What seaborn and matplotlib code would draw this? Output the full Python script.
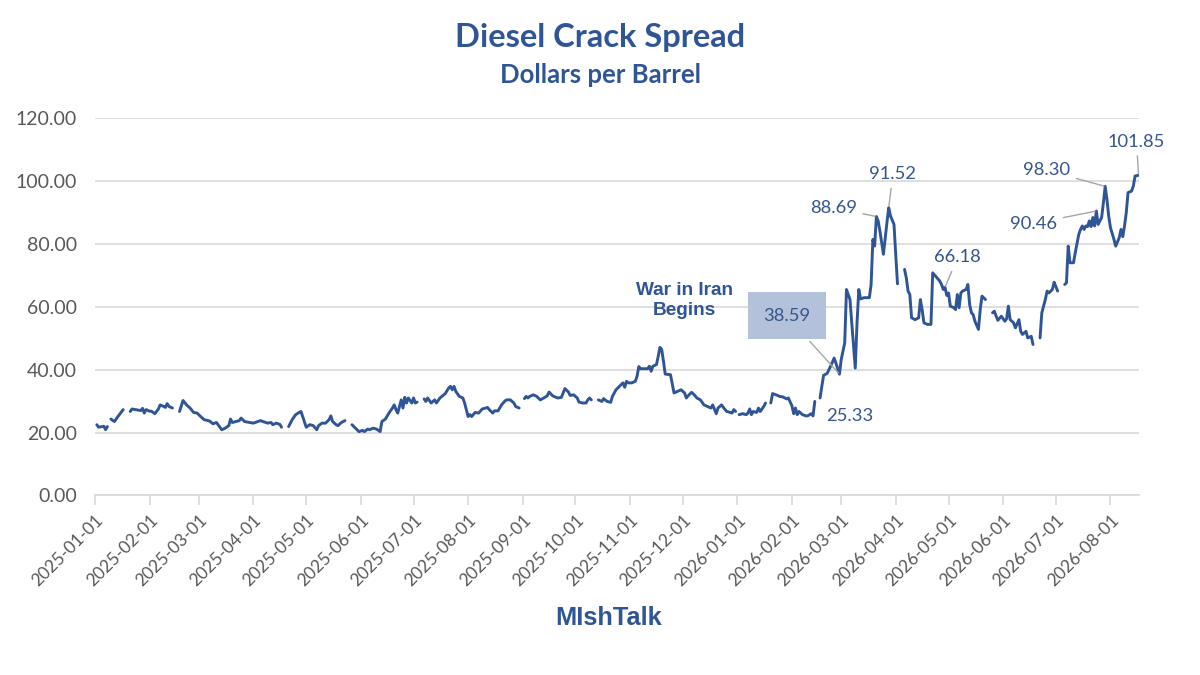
import pandas as pd
import matplotlib
matplotlib.use("Agg")
import matplotlib.pyplot as plt
import matplotlib.dates as mdates
from matplotlib.ticker import MultipleLocator, FormatStrFormatter
import seaborn as sns

# Diesel crack spread, $/bbl. None = holiday (gap in line)
days_2025 = [
    "01-02", "01-03", "01-06", "01-07", "01-08", "01-09", "01-10", "01-12", "01-14", "01-17", "01-20", "01-21", "01-22", "01-24", "01-27", "01-28", "01-29", "01-30",
    "02-01", "02-02", "02-04", "02-06", "02-07", "02-09", "02-10", "02-11", "02-12", "02-14", "02-17", "02-18", "02-20", "02-22", "02-24", "02-26", "02-28",
    "03-02", "03-04", "03-07", "03-09", "03-11", "03-14", "03-16", "03-18", "03-19", "03-20", "03-22", "03-24", "03-25", "03-27", "03-30",
    "04-01", "04-05", "04-09", "04-11", "04-12", "04-14", "04-16", "04-17", "04-18", "04-21", "04-23", "04-25", "04-27", "04-28", "04-29",
    "05-01", "05-03", "05-05", "05-07", "05-08", "05-10", "05-12", "05-14", "05-15", "05-16", "05-18", "05-19", "05-21", "05-23", "05-26", "05-27", "05-29", "05-31",
    "06-02", "06-03", "06-05", "06-06", "06-08", "06-10", "06-12", "06-13", "06-15", "06-17", "06-19", "06-20", "06-21", "06-22", "06-23", "06-24", "06-25", "06-26", "06-27", "06-28", "06-30",
    "07-01", "07-02", "07-03", "07-04", "07-07", "07-08", "07-09", "07-10", "07-11", "07-13", "07-14", "07-16", "07-19", "07-21", "07-22", "07-23", "07-24", "07-25", "07-27", "07-29", "07-30",
    "08-01", "08-02", "08-03", "08-05", "08-07", "08-09", "08-11", "08-12", "08-13", "08-15", "08-16", "08-18", "08-20", "08-22", "08-23", "08-25", "08-27", "08-28", "08-30",
    "09-01", "09-02", "09-03", "09-04", "09-05", "09-07", "09-09", "09-11", "09-13", "09-15", "09-16", "09-18", "09-20", "09-21", "09-23", "09-25", "09-27", "09-28", "09-30",
    "10-02", "10-03", "10-05", "10-07", "10-08", "10-09", "10-10", "10-13", "10-14", "10-16", "10-17", "10-19", "10-21", "10-22", "10-24", "10-26", "10-28", "10-29", "10-30", "10-31",
    "11-02", "11-04", "11-05", "11-06", "11-07", "11-09", "11-11", "11-12", "11-13", "11-14", "11-16", "11-17", "11-18", "11-19", "11-20", "11-21", "11-24", "11-26", "11-28", "11-30",
    "12-02", "12-03", "12-04", "12-06", "12-08", "12-09", "12-11", "12-13", "12-15", "12-17", "12-18", "12-20", "12-21", "12-23", "12-25", "12-26", "12-28", "12-29", "12-30", "12-31",
]
crack_2025 = [
    22.5, 21.7, 22.0, 20.9, 21.9, None, 24.3, 23.5, 25.1, 27.3, None, 26.7, 27.5, 27.3, 27.0, 27.7, 26.2, 27.3,
    26.8, 26.8, 26.0, 27.5, 28.8, 28.3, 28.0, 29.2, 28.3, 27.8, None, 26.7, 30.2, 28.8, 27.8, 26.4, 26.2,
    25.1, 24.1, 23.7, 22.8, 23.2, 20.9, 21.4, 22.2, 24.3, 23.2, 23.5, 23.8, 24.6, 23.5, 23.2,
    23.0, 23.8, 23.0, 23.2, 22.5, 23.0, 22.6, 21.7, None, 21.9, 24.1, 25.7, 26.4, 26.7, 25.1,
    21.7, 22.5, 22.2, 20.9, 22.2, 23.0, 23.0, 24.1, 25.3, 23.5, 22.5, 22.2, 23.2, 23.8, None, 22.5, 21.4, 20.3,
    20.7, 20.3, 21.1, 20.9, 21.4, 21.1, 20.3, 23.5, 24.3, 26.2, 27.8, 28.8, 27.3, 26.2, 28.3, 30.4, 27.8, 31.2, 29.4, 31.0, 29.4,
    31.0, 29.4, 29.7, None, 30.7, 29.9, 31.0, 30.2, 29.4, 30.4, 29.4, 31.0, 32.4, 34.2, 34.7, 33.6, 34.7, 33.1, 31.5, 31.0, 29.4,
    25.1, 25.7, 25.1, 26.4, 26.2, 27.5, 27.8, 28.0, 27.3, 26.2, 26.9, 26.9, 28.8, 30.1, 30.4, 30.4, 29.4, 28.3, 27.8,
    None, 30.8, 31.5, 31.0, 31.5, 32.0, 31.5, 30.4, 31.0, 31.7, 32.9, 31.7, 31.2, 31.0, 31.2, 34.0, 32.9, 31.8, 32.0,
    31.0, 29.7, 29.4, 29.4, 30.4, 31.0, 30.4, None, 30.4, 29.9, 30.8, 29.9, 29.6, 31.5, 33.6, 34.7, 35.8, 34.4, 36.3, 35.8,
    35.8, 36.3, 37.9, 41.0, 40.3, 40.3, 40.3, 41.1, 39.5, 41.1, 41.6, 44.2, 47.1, 46.4, 42.7, 38.6, 38.4, 32.6, 33.1, 33.6,
    32.6, 31.0, 31.7, 32.8, 31.7, 31.0, 30.4, 28.8, 28.3, 27.8, 28.8, 26.0, 27.8, 28.8, 27.3, 26.7, 26.4, 26.2, 27.3, 26.7,
]
days_2026 = [
    "01-01", "01-02", "01-04", "01-06", "01-07", "01-08", "01-09", "01-10", "01-12", "01-13", "01-14", "01-16", "01-17", "01-19", "01-20", "01-21", "01-23", "01-25", "01-27", "01-29", "01-30",
    "02-01", "02-02", "02-03", "02-04", "02-05", "02-07", "02-09", "02-10", "02-12", "02-13", "02-14", "02-16", "02-17", "02-18", "02-19", "02-21", "02-23", "02-25", "02-26", "02-28",
    "03-01", "03-03", "03-04", "03-06", "03-07", "03-09", "03-10", "03-11", "03-12", "03-14", "03-17", "03-18", "03-19", "03-20", "03-21", "03-22", "03-23", "03-25", "03-27", "03-28", "03-29", "03-31",
    "04-01", "04-02", "04-03", "04-06", "04-07", "04-08", "04-09", "04-10", "04-12", "04-14", "04-15", "04-16", "04-17", "04-19", "04-21", "04-22", "04-24", "04-26", "04-27", "04-28", "04-29", "04-30",
    "05-01", "05-02", "05-04", "05-05", "05-06", "05-07", "05-08", "05-09", "05-11", "05-12", "05-13", "05-14", "05-15", "05-16", "05-18", "05-19", "05-20", "05-22", "05-25", "05-26", "05-27", "05-29", "05-31",
    "06-02", "06-03", "06-04", "06-05", "06-07", "06-08", "06-10", "06-11", "06-12", "06-14", "06-15", "06-17", "06-18", "06-19", "06-22", "06-23", "06-25", "06-26", "06-27", "06-29", "06-30",
    "07-01", "07-02", "07-03", "07-06", "07-07", "07-08", "07-09", "07-11", "07-12", "07-14", "07-15", "07-16", "07-17", "07-18", "07-19", "07-20", "07-21", "07-22", "07-23", "07-24", "07-25", "07-26", "07-27", "07-28", "07-29", "07-30", "07-31",
    "08-01", "08-03", "08-04", "08-06", "08-07", "08-08", "08-09", "08-10", "08-11", "08-13", "08-14", "08-15", "08-16", "08-17",
]
crack_2026 = [
    None, 25.7, 26.0, 25.7, 26.2, 27.5, 25.7, 26.7, 26.4, 27.8, 26.7, 28.3, 29.4, None, 29.4, 32.4, 32.0, 31.5, 31.3, 30.7, 31.0,
    28.5, 26.0, 27.8, 25.7, 26.7, 25.7, 25.3, 25.33, 26.0, 25.3, 29.9, None, 31.0, 34.7, 38.2, 38.8, 41.1, 43.7, 42.1, 38.59,
    43.2, 48.5, 65.5, 62.3, 54.9, 40.5, 54.9, 65.5, 62.5, 62.9, 62.9, 67.1, 81.4, 79.3, 88.69, 87.3, 84.1, 76.7, 86.8, 91.52, 88.9, 86.2,
    76.5, 67.3, None, 71.9, 69.2, 65.0, 63.9, 56.5, 55.9, 56.5, 62.3, 59.1, 54.9, 54.4, 54.4, 70.8, 69.5, 68.2, 67.1, 65.5, 66.18, 63.6,
    64.4, 60.2, 59.7, 59.1, 63.9, 59.7, 64.4, 65.0, 65.5, 67.1, 60.7, 58.1, 57.5, 55.4, 52.8, 59.1, 63.4, 62.3, None, 58.1, 58.6, 55.7, 57.0,
    55.4, 56.2, 60.2, 55.9, 54.9, 53.3, 55.9, 52.2, 51.2, 52.2, 50.1, 50.6, 48.0, None, 50.1, 58.1, 62.3, 65.0, 64.4, 65.5, 67.8,
    66.4, 65.0, None, 67.1, 67.6, 79.3, 74.0, 74.0, 77.2, 83.0, 84.6, 85.7, 84.6, 85.7, 85.5, 87.3, 85.5, 88.4, 85.7, 90.46, 86.2, 87.3, 88.4, 93.1, 98.30, 94.2, 88.9,
    85.2, 81.4, 79.3, 82.0, 84.6, 82.3, 85.7, 90.0, 96.3, 96.8, 98.4, 101.6, 101.7, 101.85,
]

# labelled points
label_dates = ["2026-02-10", "2026-02-28", "2026-03-21", "2026-03-28", "2026-04-29", "2026-07-24", "2026-07-29", "2026-08-17"]
label_values = [25.33, 38.59, 88.69, 91.52, 66.18, 90.46, 98.30, 101.85]
label_offsets = [(30, 0), (-38, 42), (-31, 6.5), (3, 24), (9, 21.5), (-45, -9), (-42, 11.5), (-1.5, 24)]

assert len(days_2025) == len(crack_2025) and len(days_2026) == len(crack_2026)

BLUE = "#2F5597"
LABEL_BLUE = "#35558F"
GRID = "#D9D9D9"
GREY_TXT = "#595959"

df = pd.DataFrame({
    "date": pd.to_datetime(["2025-" + d for d in days_2025] + ["2026-" + d for d in days_2026]),
    "spread": pd.Series(crack_2025 + crack_2026, dtype="float"),
})
# split the series at the blanks so the line breaks like in Excel
df["segment"] = df["spread"].isna().cumsum()
df = df.dropna()

sns.set_theme(style="white")
plt.rcParams["font.family"] = ["Lato", "DejaVu Sans"]

fig = plt.figure(figsize=(12, 6.75), dpi=100)
ax = fig.add_axes([0.0792, 0.266, 0.870, 0.559])

sns.lineplot(data=df, x="date", y="spread", units="segment", estimator=None,
             color=BLUE, linewidth=2.1, ax=ax, legend=False)

# axes formatting
ax.set_ylim(0, 120)
ax.yaxis.set_major_locator(MultipleLocator(20))
ax.yaxis.set_major_formatter(FormatStrFormatter("%.2f"))
ax.set_xlim(pd.Timestamp("2025-01-01"), pd.Timestamp("2026-08-17 06:00"))
ax.xaxis.set_major_locator(mdates.MonthLocator())
ax.xaxis.set_major_formatter(mdates.DateFormatter("%Y-%m-%d"))
ax.grid(axis="y", color=GRID, linewidth=1.2)
ax.grid(axis="x", visible=False)
ax.set_axisbelow(True)
for side in ["top", "right", "left"]:
    ax.spines[side].set_visible(False)
ax.spines["bottom"].set_color(GRID)
ax.spines["bottom"].set_linewidth(1.2)
ax.tick_params(axis="x", length=7, width=1.2, color=GRID, labelsize=12.5, labelcolor=GREY_TXT, pad=5, bottom=True)
ax.tick_params(axis="y", length=0, labelsize=14, labelcolor=GREY_TXT, pad=13)
plt.setp(ax.get_xticklabels(), rotation=45, ha="right", rotation_mode="anchor")
ax.set_xlabel("")
ax.set_ylabel("")

# data labels
for d, v, (dx, dy) in zip(label_dates, label_values, label_offsets):
    xy = (mdates.date2num(pd.Timestamp(d)), v)
    kw = dict(textcoords="offset points", ha="center", va="center",
              fontsize=13.2, color=LABEL_BLUE)
    if v == 25.33:
        ax.annotate(f"{v:.2f}", xy=xy, xytext=(dx, dy), **kw)
        continue
    if v == 38.59:
        kw["bbox"] = dict(boxstyle="square,pad=0.85", facecolor="#B4C1DA", edgecolor="none")
    ax.annotate(f"{v:.2f}", xy=xy, xytext=(dx, dy),
                arrowprops=dict(arrowstyle="-", color="#A6A6A6", lw=1, shrinkA=2, shrinkB=1),
                **kw)

ax.text(mdates.date2num(pd.Timestamp("2025-12-02")), 62, "War in Iran\nBegins",
        ha="center", va="center", fontsize=13.7, fontweight="bold", color=BLUE,
        family=["Liberation Sans", "DejaVu Sans"], linespacing=1.2)

# titles
fig.text(0.5, 0.945, "Diesel Crack Spread", ha="center", va="center",
         fontsize=23.5, fontweight="bold", color=BLUE)
fig.text(0.5, 0.889, "Dollars per Barrel", ha="center", va="center",
         fontsize=18.5, fontweight="bold", color=BLUE)
fig.text(0.507, 0.084, "MIshTalk", ha="center", va="center", fontsize=18.3,
         fontweight="bold", color=BLUE, family=["Liberation Sans", "DejaVu Sans"])

fig.savefig("out.png", dpi=100)
